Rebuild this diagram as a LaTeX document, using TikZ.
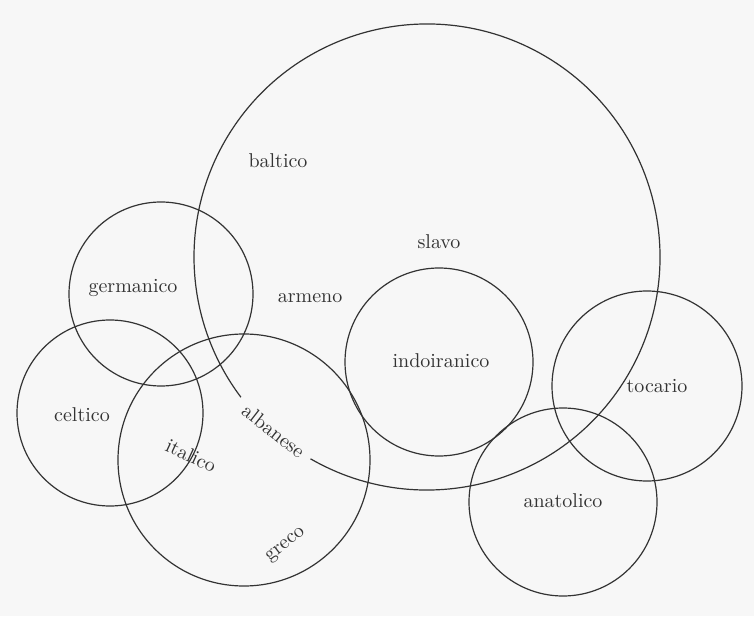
\documentclass[tikz,border=0pt]{standalone}
\usetikzlibrary{positioning}
\tikzset{
    grupo/.style={
        circle,                 % cada grupo de lenguas es un círculo
        draw=black!80,          % trazo gris muy oscuro, como en la impresión
        line width=0.6pt,       % línea fina
        inner sep=0pt,          % sin relleno interior: manda minimum size
        minimum size=#1         % diámetro del círculo
    },
    contorno/.style={
        draw=black!80,
        line width=0.6pt        % mismo trazo que los círculos
    },
    lengua/.style={
        font=\fontsize{10}{12}\selectfont, % texto de la etiqueta
        text=black!80,
        inner sep=1pt,
        text height=1ex,        % centro en la mitad de la altura x
        text depth=0pt
    }
}

\begin{document}
\begin{tikzpicture}[x=0.5pt,y=0.5pt]
    \useasboundingbox[fill=black!3] (0,0) rectangle (754,616);

    % círculos
    \node[grupo=92pt] (germ) at (161,322) {};
    \node[grupo=93pt] (celt) at (110,203) {};
    \node[grupo=126pt] (ital) at (244,156) {};
    \node[grupo=94pt] (indo) at (439,254) {};
    \node[grupo=95pt] (toca) at (647,230) {};
    \node[grupo=94pt] (anat) at (563,114) {};

    % círculo grande, abierto donde pasa "albanese"
    \coordinate (balt) at (427,359);
    \draw[contorno] ([shift={(240:233)}]balt) arc[start angle=240, end angle=577, radius=233];

    % etiquetas
    \node[lengua] (baltico) at (278,453) {baltico};
    \node[lengua] (slavo) at (439,372) {slavo};
    \node[lengua] (armeno) at (310,318) {armeno};
    \node[lengua] (germanico) at (133,328) {germanico};
    \node[lengua] (celtico) at (82,199) {celtico};
    \node[lengua] (indoiranico) at (441,253) {indoiranico};
    \node[lengua] (tocario) at (657,228) {tocario};
    \node[lengua] (anatolico) at (563,113) {anatolico};
    \node[lengua, rotate=-25] (italico) at (190,158) {italico};
    \node[lengua, rotate=-38] (albanese) at (272,183) {albanese};
    \node[lengua, rotate=38] (greco) at (285,72) {greco};
\end{tikzpicture}
\end{document}
